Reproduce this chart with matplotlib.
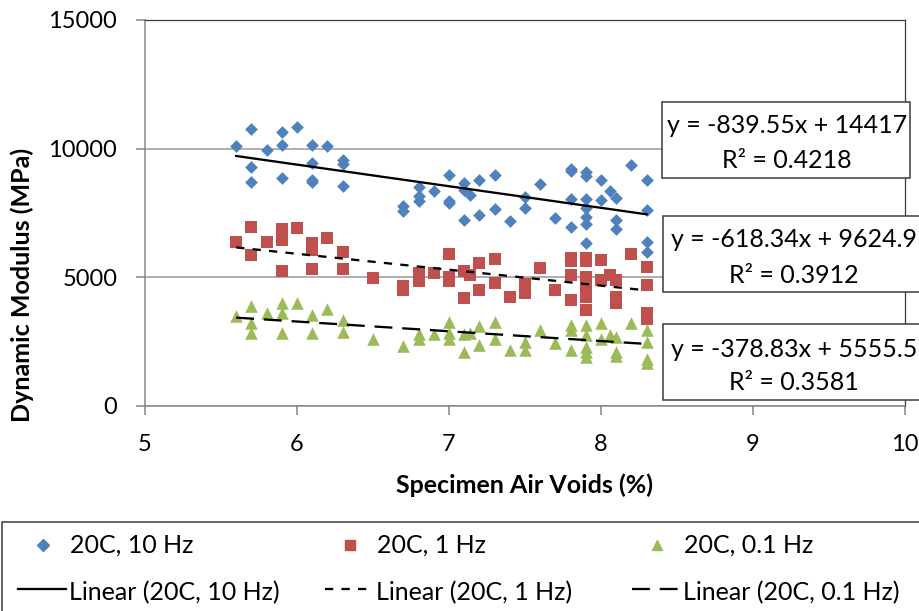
import matplotlib
matplotlib.use('Agg')
import matplotlib.pyplot as plt
from matplotlib.lines import Line2D
from matplotlib.patches import Rectangle
import numpy as np

plt.rcParams['font.family'] = ['Lato', 'DejaVu Sans']

# ── Data: specimen air voids (%) vs dynamic modulus (MPa) ──

X_10HZ = [5.6, 5.7, 5.7, 5.7, 5.8, 5.9, 5.9, 5.9, 6.0, 6.1, 6.1, 6.1, 6.1, 6.2,
          6.3, 6.3, 6.3,
          6.7, 6.7, 6.8, 6.8, 6.8, 6.9, 7.0, 7.0, 7.0, 7.1, 7.1, 7.1, 7.14,
          7.2, 7.2, 7.3, 7.3, 7.4, 7.5, 7.5, 7.6, 7.7, 7.8, 7.8, 7.8, 7.8,
          7.9, 7.9, 7.9, 7.9, 7.9, 7.9, 7.9, 8.0, 8.0, 8.06, 8.1, 8.1, 8.1,
          8.2, 8.3, 8.3, 8.3, 8.3]
Y_10HZ = [10090, 10780, 9290, 8720, 9930, 10660, 10130, 8870, 10840, 10130,
          9440, 8790, 8700, 10090, 9550, 9400, 8550,
          7780, 7580, 8510, 8170, 7950, 8370, 8990, 7980, 7900, 8670, 8400,
          7240, 8210, 8770, 7430, 8990, 7650, 7170, 8110, 7680, 8640, 7320,
          9210, 9150, 8050, 6940, 9080, 8920, 8040, 7680, 7340, 7070, 6330,
          8770, 7990, 8370, 8080, 7240, 6870, 9350, 8770, 7630, 6390, 5970]

X_1HZ = [5.6, 5.7, 5.7, 5.8, 5.9, 5.9, 5.9, 6.0, 6.1, 6.1, 6.1, 6.2, 6.3, 6.3,
         6.5, 6.7, 6.7, 6.8, 6.8, 6.9, 7.0, 7.0, 7.0, 7.1, 7.1, 7.14, 7.2,
         7.2, 7.3, 7.3, 7.4, 7.5, 7.5, 7.6, 7.7, 7.8, 7.8, 7.8, 7.8, 7.9,
         7.9, 7.9, 7.9, 7.9, 7.9, 8.0, 8.0, 8.06, 8.1, 8.1, 8.1, 8.2, 8.3,
         8.3, 8.3, 8.3]
Y_1HZ = [6380, 6940, 5850, 6380, 6870, 6460, 5250, 6930, 6330, 6070, 5320,
         6520, 6000, 5320, 4970, 4680, 4500, 5160, 4840, 5160, 5910, 5030,
         4840, 5230, 4190, 5100, 5550, 4490, 5720, 4770, 4250, 4740, 4390,
         5380, 4510, 5770, 5650, 5100, 4100, 5770, 5650, 5030, 4710, 4250,
         3740, 5680, 4900, 5100, 4900, 4250, 4000, 5910, 5420, 4710, 3630,
         3370]

X_01HZ = [5.6, 5.7, 5.7, 5.7, 5.8, 5.9, 5.9, 5.9, 6.0, 6.1, 6.1, 6.2, 6.3, 6.3,
          6.5, 6.7, 6.8, 6.8, 6.9, 7.0, 7.0, 7.0, 7.1, 7.1, 7.14, 7.2, 7.2,
          7.3, 7.3, 7.4, 7.5, 7.5, 7.6, 7.7, 7.8, 7.8, 7.8, 7.9, 7.9, 7.9,
          7.9, 7.9, 8.0, 8.0, 8.06, 8.1, 8.1, 8.1, 8.2, 8.3, 8.3, 8.3, 8.3]
Y_01HZ = [3480, 3890, 3220, 2830, 3610, 4000, 3610, 2830, 4000, 3540, 2850,
          3760, 3350, 2890, 2600, 2340, 2800, 2600, 2800, 3280, 2830, 2600,
          2800, 2110, 2830, 3090, 2370, 3280, 2600, 2180, 2500, 2180, 2960,
          2440, 3150, 2960, 2180, 3150, 2760, 2310, 2080, 1920, 3240, 2600,
          2760, 2700, 2110, 1950, 3240, 2960, 2500, 1820, 1660]

# Excel linear trendlines as printed on the chart
SLOPES = [-839.55, -618.34, -378.83]
INTERCEPTS = [14417, 9624.9, 5555.5]
R2 = [0.4218, 0.3912, 0.3581]

LABELS = ['20C, 10 Hz', '20C, 1 Hz', '20C, 0.1 Hz']
COLORS = ['#4F81BD', '#C0504D', '#9BBB59']
MARKERS = ['D', 's', '^']
SIZES = [42, 85, 82]
DASHES = ['-', (0, (3.6, 3.6)), (0, (7.8, 4.3))]

W, H = 919, 611
def fx(px):
    return px / W
def fy(py):
    return 1 - py / H

fig = plt.figure(figsize=(W / 100, H / 100), dpi=100)
ax = fig.add_axes([fx(145), fy(406), 760 / W, 386 / H])

series = [(X_10HZ, Y_10HZ), (X_1HZ, Y_1HZ), (X_01HZ, Y_01HZ)]
for (xs, ys), col, mk, sz in zip(series, COLORS, MARKERS, SIZES):
    ax.scatter(xs, ys, marker=mk, s=sz, color=col, linewidths=0, zorder=3)

for (xs, ys), m, b, ls in zip(series, SLOPES, INTERCEPTS, DASHES):
    xl = np.array([min(xs), max(xs)])
    ax.plot(xl, m * xl + b, color='black', linewidth=1.65, linestyle=ls,
            zorder=4)

ax.set_xlim(5, 10)
ax.set_ylim(0, 15000)
ax.set_xticks([5, 6, 7, 8, 9, 10])
ax.set_yticks([0, 5000, 10000, 15000])
ax.yaxis.grid(True, color='#9a9a9a', linewidth=1.1)
ax.set_axisbelow(True)

for side in ['left', 'bottom']:
    ax.spines[side].set_color('#868686')
    ax.spines[side].set_linewidth(1.1)
for side in ['top', 'right']:
    ax.spines[side].set_color('#3a3a3a')
    ax.spines[side].set_linewidth(0.9)

ax.tick_params(axis='both', direction='out', length=6.5, width=1.1,
               color='#868686', labelsize=17, labelcolor='black')
ax.tick_params(axis='x', pad=14)
ax.tick_params(axis='y', pad=13.5)

ax.set_xlabel('Specimen Air Voids (%)', fontsize=18, fontweight='bold')
ax.set_ylabel('Dynamic Modulus (MPa)', fontsize=18, fontweight='bold')
ax.xaxis.set_label_coords(0.5, (406 - 473) / 386)
ax.yaxis.set_label_coords((34 - 145) / 760, (406 - 285) / 386)

# Trendline equation boxes
boxes = [(661.7, 102.3, 910, 177.7, 787),
         (662.7, 216.0, 940, 291.7, 794),
         (663.0, 324.3, 940, 400.0, 794)]
baselines = [(133.3, 168.3), (246.7, 282.7), (356.7, 390.0)]
for (x0, y0, x1, y1, xc), (b1, b2), m, b, r2 in zip(boxes, baselines, SLOPES,
                                                     INTERCEPTS, R2):
    fig.add_artist(Rectangle((fx(x0), fy(y1)), (x1 - x0) / W, (y1 - y0) / H,
                             transform=fig.transFigure, facecolor='white',
                             edgecolor='#3a3a3a', linewidth=1.1, zorder=5))
    fig.text(fx(xc), fy(b1), f'y = {m:g}x + {b:g}', fontsize=18,
             ha='center', va='baseline', zorder=6)
    fig.text(fx(xc), fy(b2), f'R² = {r2:.4f}', fontsize=18,
             ha='center', va='baseline', zorder=6)

# Legend, laid out like the Excel one
fig.add_artist(Rectangle((fx(2), fy(625)), (930 - 2) / W, (625 - 521.7) / H,
                         transform=fig.transFigure, facecolor='none',
                         edgecolor='#3a3a3a', linewidth=1.1))
col_x = [18, 325, 632]
for i, cx in enumerate(col_x):
    fig.add_artist(Line2D([fx(cx + 24.5)], [fy(545)], marker=MARKERS[i],
                          markersize=[6.0, 7.2, 7.2][i], color=COLORS[i],
                          linestyle='none', transform=fig.transFigure))
    fig.text(fx(cx + 52), fy(553), LABELS[i], fontsize=18, va='baseline')
    fig.add_artist(Line2D([fx(cx), fx(cx + 48)], [fy(589), fy(589)],
                          color='black', linewidth=1.65, linestyle=DASHES[i],
                          transform=fig.transFigure))
    fig.text(fx(cx + 51), fy(600.5), f'Linear ({LABELS[i]})', fontsize=18,
             va='baseline')

fig.savefig('out.png', dpi=100)
plt.close(fig)
